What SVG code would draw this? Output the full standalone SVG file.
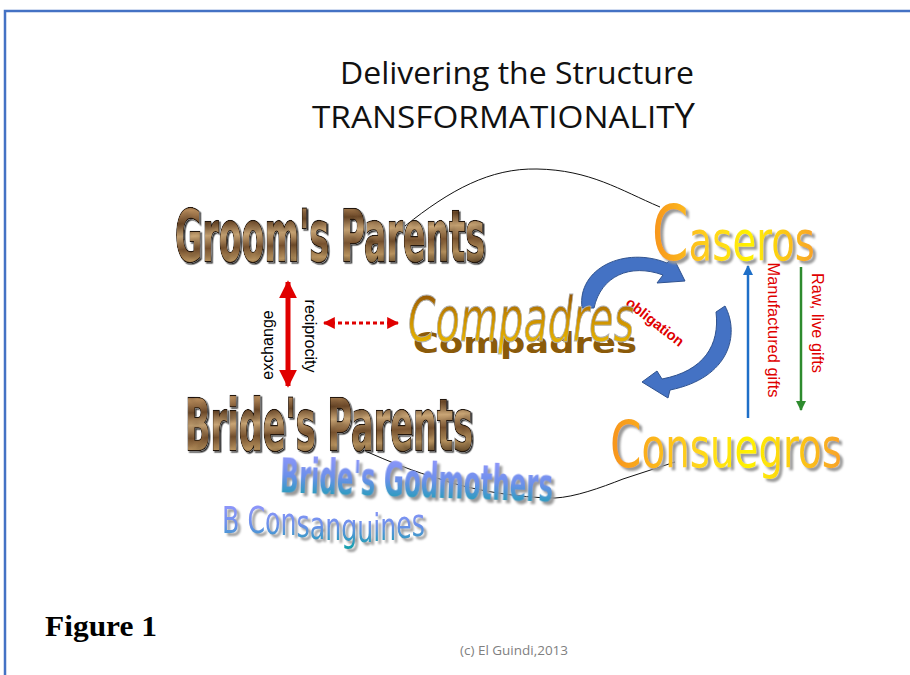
<svg xmlns="http://www.w3.org/2000/svg" width="910" height="675" viewBox="0 0 910 675">
<style>
.title{font-family:"Open Sans","Liberation Sans",sans-serif;fill:#111}
.wood{font-family:"DejaVu Sans Condensed","DejaVu Sans",sans-serif;font-weight:bold;fill:url(#woodG);stroke:#24160a;stroke-width:2.6;paint-order:stroke;filter:url(#woodTex)}
.sun{font-family:"DejaVu Sans",sans-serif;fill:url(#sunG);filter:url(#sh)}
.blue{font-family:"DejaVu Sans",sans-serif;fill:url(#blueG);filter:url(#sh)}
.lbl{font-family:"Liberation Sans",Arial,sans-serif;font-size:16px}
.conn{fill:none;stroke:#111;stroke-width:1}
.bigarc{fill:#4472C4;stroke:#2F528F;stroke-width:1}
</style>
<defs>
<linearGradient id="woodG" x1="0" y1="0" x2="0.15" y2="1">
<stop offset="0" stop-color="#4e3218"/><stop offset="0.2" stop-color="#b88c5c"/><stop offset="0.35" stop-color="#6b4828"/><stop offset="0.5" stop-color="#c9a575"/><stop offset="0.65" stop-color="#7a5430"/><stop offset="0.8" stop-color="#b8935f"/><stop offset="1" stop-color="#3e2812"/>
</linearGradient>
<linearGradient id="sunG" x1="0" y1="0" x2="1" y2="0">
<stop offset="0" stop-color="#F7931E"/><stop offset="0.35" stop-color="#FFD21F"/><stop offset="0.6" stop-color="#FFF200"/><stop offset="1" stop-color="#F8A22A"/>
</linearGradient>
<linearGradient id="compG" x1="0" y1="0" x2="0" y2="1">
<stop offset="0" stop-color="#7a3c05"/><stop offset="0.45" stop-color="#c98c00"/><stop offset="1" stop-color="#f5c800"/>
</linearGradient>
<linearGradient id="blueG" x1="0" y1="0" x2="0" y2="1">
<stop offset="0" stop-color="#9a98ff"/><stop offset="0.5" stop-color="#6c90ea"/><stop offset="1" stop-color="#0aa3a6"/>
</linearGradient>
<filter id="sh" x="-10%" y="-25%" width="130%" height="160%"><feDropShadow dx="3" dy="3" stdDeviation="0.8" flood-color="#9a9a9a"/></filter>
<filter id="woodTex" x="-5%" y="-10%" width="115%" height="130%">
<feTurbulence type="fractalNoise" baseFrequency="0.09" numOctaves="2" seed="4" result="n"/>
<feColorMatrix in="n" type="matrix" values="0 0 0 0 0.55  0 0 0 0 0.38  0 0 0 0 0.2  0.9 0 0 0 0" result="nb"/>
<feColorMatrix in="n" type="saturate" values="0" result="g"/>
<feComponentTransfer in="g" result="g2"><feFuncR type="linear" slope="1.6" intercept="0.05"/><feFuncG type="linear" slope="1.6" intercept="0.05"/><feFuncB type="linear" slope="1.6" intercept="0.05"/></feComponentTransfer>
<feBlend in="SourceGraphic" in2="g2" mode="multiply" result="m"/>
<feComposite in="m" in2="SourceGraphic" operator="in" result="t"/>
<feDropShadow in="t" dx="1.5" dy="1.5" stdDeviation="0.6" flood-color="#000" flood-opacity="0.8"/>
</filter>
<marker id="redHead" viewBox="0 0 10 10" refX="9" refY="5" markerWidth="3.6" markerHeight="3.6" orient="auto-start-reverse" markerUnits="strokeWidth"><path d="M0,0 L10,5 L0,10 Z" fill="#E00000"/></marker>
<marker id="redDot" viewBox="0 0 10 10" refX="9" refY="5" markerWidth="4" markerHeight="4" orient="auto-start-reverse" markerUnits="strokeWidth"><path d="M0,0 L10,5 L0,10 Z" fill="#E00000"/></marker>
<marker id="blueHead" viewBox="0 0 10 10" refX="9" refY="5" markerWidth="4" markerHeight="4" orient="auto" markerUnits="strokeWidth"><path d="M0,0 L10,5 L0,10 Z" fill="#1E6FC8"/></marker>
<marker id="greenHead" viewBox="0 0 10 10" refX="9" refY="5" markerWidth="4" markerHeight="4" orient="auto" markerUnits="strokeWidth"><path d="M0,0 L10,5 L0,10 Z" fill="#2E8B2E"/></marker>
</defs>
<rect width="910" height="675" fill="#fff"/>
<path d="M5,675 V11 H910" fill="none" stroke="#4472C4" stroke-width="2.5"/>

<g id="title">
<text class="title" x="340" y="84" font-size="31" textLength="354" lengthAdjust="spacingAndGlyphs">Delivering the Structure</text>
<text class="title" x="312" y="128" font-size="31" textLength="383" lengthAdjust="spacingAndGlyphs">TRANSFORMATIONALIT<tspan font-size="34">Y</tspan></text>
</g>

<g id="connectors">
<path class="conn" d="M405,226 C450,190 490,168 537,169 C590,170 620,190 660,207"/>
<path class="conn" d="M363,450 C390,462 415,472 440,479 C470,490 520,498 555,498 C575,497 600,488 623,479 L675,462"/>
<line x1="288" y1="282" x2="288" y2="386" stroke="#E00000" stroke-width="5" marker-start="url(#redHead)" marker-end="url(#redHead)"/>
<line x1="324" y1="323" x2="398" y2="323" stroke="#E00000" stroke-width="3" stroke-dasharray="4 3" marker-start="url(#redDot)" marker-end="url(#redDot)"/>
<path class="bigarc" d="M582,308 C577,268 625,246 667,263 L673,257 L685,281 L657,283 L663,275 C630,263 601,276 594,308 Z"/>
<path class="bigarc" d="M716,312 L725,306 C740,334 730,378 670,390 L668,398 L642,382 L657,371 L662,379 C704,371 720,345 716,312 Z"/>
<line x1="748" y1="418" x2="748" y2="266" stroke="#1E6FC8" stroke-width="2.5" marker-end="url(#blueHead)"/>
<line x1="801" y1="267" x2="801" y2="410" stroke="#2E8B2E" stroke-width="2.5" marker-end="url(#greenHead)"/>
</g>

<g id="labels">
<text class="lbl" transform="translate(273,345) rotate(-90)" text-anchor="middle" fill="#000">exchange</text>
<text class="lbl" transform="translate(305,336) rotate(90)" text-anchor="middle" fill="#000">reciprocity</text>
<text transform="translate(655,322) rotate(38)" text-anchor="middle" y="5" font-family="Liberation Sans,Arial,sans-serif" font-weight="bold" font-size="14.5" fill="#E00000">obligation</text>
<text class="lbl" transform="translate(768,330) rotate(90)" text-anchor="middle" fill="#E00000" textLength="135" lengthAdjust="spacingAndGlyphs">Manufactured gifts</text>
<text class="lbl" transform="translate(812,323) rotate(90)" text-anchor="middle" fill="#E00000" textLength="100" lengthAdjust="spacingAndGlyphs">Raw, live gifts</text>
</g>

<g id="grooms-parents">
<text class="wood" x="175" y="261" font-size="72" textLength="310" lengthAdjust="spacingAndGlyphs">Groom's Parents</text>
</g>

<g id="brides-parents">
<text class="wood" x="185" y="450" font-size="72" textLength="288" lengthAdjust="spacingAndGlyphs">Bride's Parents</text>
</g>

<g id="compadres">
<text transform="translate(0,353) scale(1,0.45)" x="413" y="0" font-family="DejaVu Sans,sans-serif" font-weight="bold" font-size="62" fill="#8a5a0a" textLength="224" lengthAdjust="spacingAndGlyphs">Compadres</text>
<text x="408" y="341" font-family="DejaVu Sans,sans-serif" font-style="italic" font-size="62" fill="url(#compG)" stroke="#b0b0b0" stroke-width="1" textLength="226" lengthAdjust="spacingAndGlyphs">Compadres</text>
</g>

<g id="caseros">
<text class="sun" x="652" y="260" textLength="163" lengthAdjust="spacingAndGlyphs"><tspan font-size="76">C</tspan><tspan font-size="56">aseros</tspan></text>
</g>

<g id="consuegros">
<text class="sun" x="610" y="467" textLength="232" lengthAdjust="spacingAndGlyphs"><tspan font-size="64">C</tspan><tspan font-size="55">onsuegros</tspan></text>
</g>

<g id="brides-godmothers">
<text class="blue" transform="rotate(2 416 485)" x="280" y="497" font-size="48" font-weight="bold" textLength="273" lengthAdjust="spacingAndGlyphs">Bride's Godmothers</text>
</g>

<g id="b-consanguines">
<text class="blue" x="222" y="533" font-size="37" textLength="203" lengthAdjust="spacingAndGlyphs" dy="0 0 0 1 1 2 2 1 1 1 -1 -1 -2 -2">B Consanguines</text>
</g>

<g id="footer">
<text x="45" y="636" font-family="Liberation Serif,Times New Roman,serif" font-weight="bold" font-size="30" fill="#000" textLength="112" lengthAdjust="spacingAndGlyphs">Figure 1</text>
<text x="460" y="655" font-family="Open Sans,Liberation Sans,sans-serif" font-size="12" fill="#7f7f7f" textLength="108" lengthAdjust="spacingAndGlyphs">(c) El Guindi,2013</text>
</g>
</svg>
